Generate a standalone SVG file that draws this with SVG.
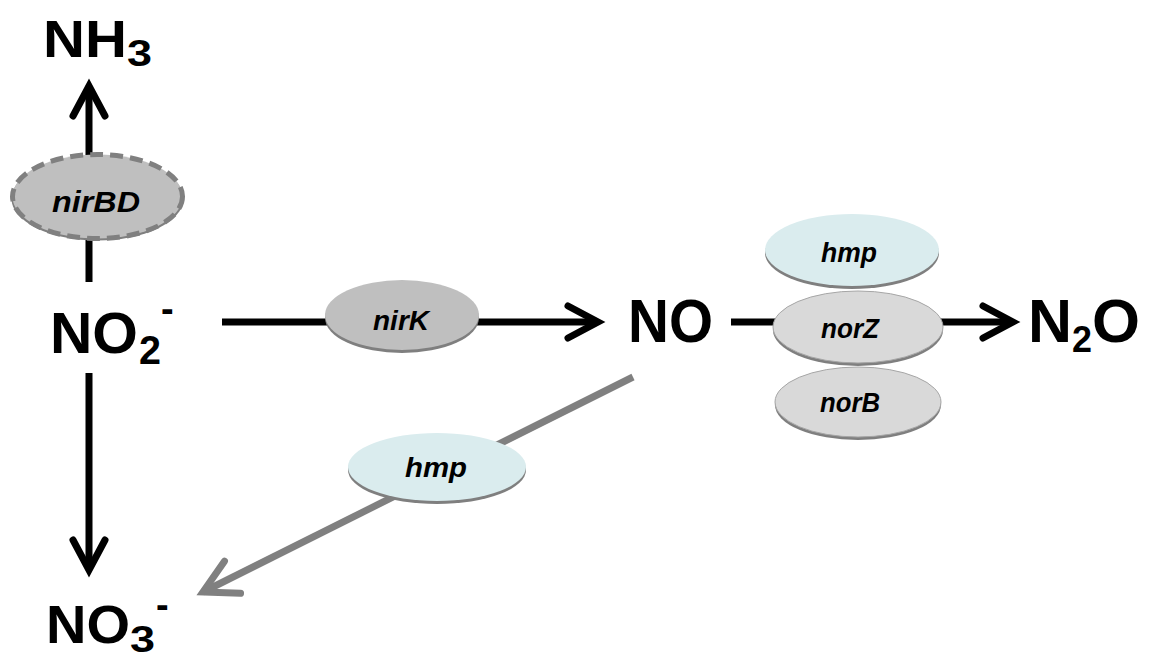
<svg xmlns="http://www.w3.org/2000/svg" width="1149" height="662" viewBox="0 0 1149 662">
<style>
.chem{font-family:"Liberation Sans",Arial,sans-serif;font-weight:bold;fill:#000}
.enz{font-family:"Liberation Sans",Arial,sans-serif;font-weight:bold;font-style:italic;fill:#000;text-anchor:middle}
.shadow{fill:#7f7f7f}
.dark{fill:#bfbfbf}
.light{fill:#d9d9d9;stroke:#a6a6a6;stroke-width:1}
.blue{fill:#daecee}
.blk{stroke:#000;stroke-width:7;fill:none}
.gry{stroke:#808080;stroke-width:7;fill:none}
</style>
<defs>
<marker id="ahB" markerUnits="userSpaceOnUse" markerWidth="80" markerHeight="80" viewBox="-40 -40 80 80" refX="0" refY="0" orient="auto" overflow="visible">
<path d="M-30,-16 L0,0 L-30,16" fill="none" stroke="#000" stroke-width="7" stroke-linecap="round" stroke-linejoin="miter"/>
</marker>
<marker id="ahG" markerUnits="userSpaceOnUse" markerWidth="80" markerHeight="80" viewBox="-40 -40 80 80" refX="0" refY="0" orient="auto" overflow="visible">
<path d="M-33,-18 L0,0 L-33,18" fill="none" stroke="#808080" stroke-width="7" stroke-linecap="round" stroke-linejoin="miter"/>
</marker>
</defs>
<rect width="1149" height="662" fill="#fff"/>
<g id="connectors">
<line class="blk" x1="89" y1="282" x2="89" y2="86" marker-end="url(#ahB)"/>
<line class="blk" x1="89" y1="373" x2="89" y2="570" marker-end="url(#ahB)"/>
<line class="blk" x1="222" y1="322" x2="598" y2="322" marker-end="url(#ahB)"/>
<line class="blk" x1="731" y1="322" x2="1013" y2="322" marker-end="url(#ahB)"/>
<line class="gry" x1="633" y1="377" x2="203" y2="592" marker-end="url(#ahG)"/>
</g>
<g id="nirBD">
<ellipse class="shadow" cx="97.5" cy="198.5" rx="86" ry="42"/>
<ellipse cx="97.5" cy="196.5" rx="85" ry="42" fill="#bfbfbf" stroke="#808080" stroke-width="5" stroke-dasharray="13,7"/>
<text class="enz" x="96" y="212" font-size="30" textLength="88" lengthAdjust="spacingAndGlyphs">nirBD</text>
</g>
<g id="nirK">
<ellipse class="shadow" cx="402" cy="318" rx="77" ry="35"/>
<ellipse class="dark" cx="402" cy="315" rx="77" ry="35"/>
<text class="enz" x="401" y="330" font-size="27" textLength="56" lengthAdjust="spacingAndGlyphs">nirK</text>
</g>
<g id="hmp-top">
<ellipse class="shadow" cx="852" cy="253" rx="87" ry="36"/>
<ellipse class="blue" cx="852" cy="250" rx="87" ry="36"/>
<text class="enz" x="849" y="262" font-size="28" textLength="56" lengthAdjust="spacingAndGlyphs">hmp</text>
</g>
<g id="norB">
<ellipse class="shadow" cx="858" cy="405" rx="83" ry="35"/>
<ellipse class="light" cx="858" cy="402" rx="83" ry="35"/>
<text class="enz" x="850" y="412" font-size="28" textLength="60" lengthAdjust="spacingAndGlyphs">norB</text>
</g>
<g id="norZ">
<ellipse class="shadow" cx="858" cy="330" rx="85" ry="36"/>
<ellipse class="light" cx="858" cy="327" rx="85" ry="36"/>
<text class="enz" x="850" y="338" font-size="28" textLength="58" lengthAdjust="spacingAndGlyphs">norZ</text>
</g>
<g id="hmp-bottom">
<ellipse class="shadow" cx="437" cy="470" rx="89" ry="34"/>
<ellipse class="blue" cx="437" cy="467" rx="89" ry="34"/>
<text class="enz" x="436" y="477" font-size="28" textLength="62" lengthAdjust="spacingAndGlyphs">hmp</text>
</g>
<g id="NH3">
<text class="chem" x="43" y="57" font-size="52" textLength="84" lengthAdjust="spacingAndGlyphs">NH</text>
<text class="chem" x="127" y="66" font-size="36" textLength="25" lengthAdjust="spacingAndGlyphs">3</text>
</g>
<g id="NO2">
<text class="chem" x="50" y="353" font-size="58" textLength="88" lengthAdjust="spacingAndGlyphs">NO</text>
<text class="chem" x="139" y="364" font-size="40" textLength="22" lengthAdjust="spacingAndGlyphs">2</text>
<text class="chem" x="161" y="322" font-size="38">-</text>
</g>
<g id="NO">
<text class="chem" x="628" y="342" font-size="61" textLength="85" lengthAdjust="spacingAndGlyphs">NO</text>
</g>
<g id="N2O">
<text class="chem" x="1028" y="342" font-size="61" textLength="44" lengthAdjust="spacingAndGlyphs">N</text>
<text class="chem" x="1072" y="352" font-size="36" textLength="20" lengthAdjust="spacingAndGlyphs">2</text>
<text class="chem" x="1092" y="342" font-size="61" textLength="48" lengthAdjust="spacingAndGlyphs">O</text>
</g>
<g id="NO3">
<text class="chem" x="46" y="643" font-size="54" textLength="84" lengthAdjust="spacingAndGlyphs">NO</text>
<text class="chem" x="130" y="652" font-size="37" textLength="25" lengthAdjust="spacingAndGlyphs">3</text>
<text class="chem" x="156" y="618" font-size="38">-</text>
</g>
</svg>
